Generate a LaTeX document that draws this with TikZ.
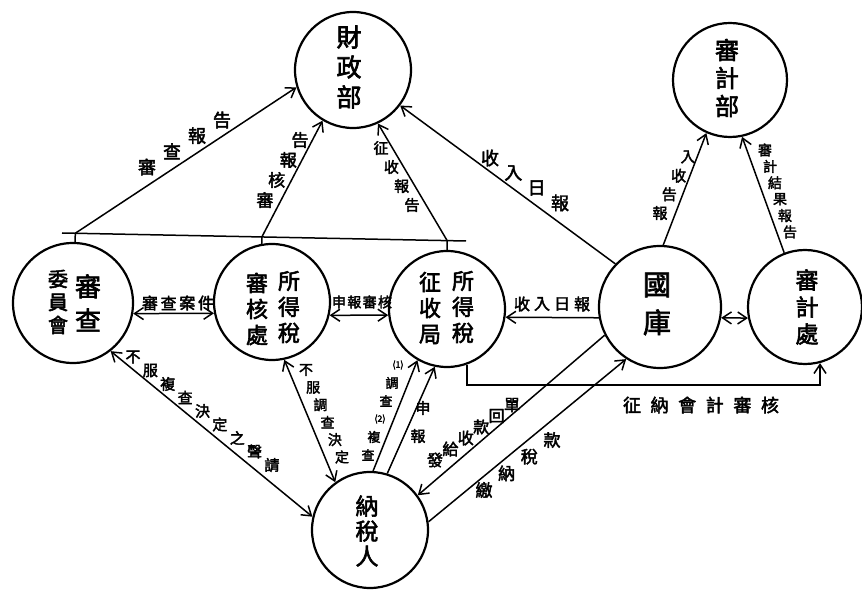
\documentclass[tikz,border=0pt]{standalone}
\usepackage{fontspec}
\newfontfamily\cjk[FakeBold=2.5]{Noto Sans CJK TC}
\usetikzlibrary{arrows.meta,calc}
\tikzset{
  circ/.style={circle,draw,line width=2.2pt,minimum size=#1,inner sep=0pt},
  ln/.style={line width=1.5pt},
  arr/.style={ln,-{Straight Barb[length=9pt,width=12pt]}},
  darr/.style={ln,{Straight Barb[length=9pt,width=12pt]}-{Straight Barb[length=9pt,width=12pt]}},
  ntxt/.style n args={2}{align=center,inner sep=0pt,font=\cjk\fontsize{#1}{#2}\selectfont},
  elab/.style={inner sep=0pt},
}
\newcommand\edgelbl[6]{%
  \foreach \c [count=\i] in {#6}{%
    \node[elab,font=\cjk\fontsize{#2}{#2}\selectfont] (#1-\i) at ($(#3)!{(\i-1)/(#5-1)}!(#4)$) {\c};}}
\begin{document}
\begin{tikzpicture}[x=1pt,y=-1pt]
\useasboundingbox[fill=white] (0,0) rectangle (862,593);
% circles
\node[circ=116pt] (czb) at (353,70) {};
\node[circ=114pt] (sjb) at (730,80) {};
\node[circ=120pt] (scw) at (73,303) {};
\node[circ=116pt] (shc) at (272,302) {};
\node[circ=116pt] (zsj) at (447,309) {};
\node[circ=122pt] (gk) at (660,307) {};
\node[circ=114pt] (sjc) at (805,307) {};
\node[circ=116pt] (nsr) at (370,530) {};
% node texts
\node[ntxt={25}{30}] (t-czb) at (349,67) {財\\政\\部};
\node[ntxt={24}{28}] (t-sjb) at (727,78) {審\\計\\部};
\node[ntxt={26}{34}] (t-scw1) at (88,303) {審\\查};
\node[ntxt={20}{23}] (t-scw2) at (58,302) {委\\員\\會};
\node[ntxt={22}{26}] (t-shc1) at (289,307) {所\\得\\稅};
\node[ntxt={22}{26}] (t-shc2) at (257,309) {審\\核\\處};
\node[ntxt={22}{26}] (t-zsj1) at (463,307) {所\\得\\稅};
\node[ntxt={22}{26}] (t-zsj2) at (430,308) {征\\收\\局};
\node[ntxt={28}{38}] (t-gk) at (657,304) {國\\庫};
\node[ntxt={23}{27}] (t-sjc) at (807,307) {審\\計\\處};
\node[ntxt={23}{25}] (t-nsr) at (367,531) {納\\稅\\人};
% top horizontal line and stubs
\coordinate (hl) at (62,233);
\coordinate (hr) at (466,241);
\coordinate (s1) at ($(hl)!(scw.88)!(hr)$);
\coordinate (s2) at ($(hl)!(shc.100)!(hr)$);
\coordinate (s3) at ($(hl)!(zsj.90)!(hr)$);
\draw[ln] (hl) -- (hr);
\draw[ln] (scw.88) -- (s1);
\draw[ln] (shc.100) -- (s2);
\draw[ln] (zsj.90) -- (s3);
% to 財政部
\draw[arr] (s1) -- (czb.197);
\draw[arr] (s2) -- (czb.239);
\draw[arr] (s3) -- (czb.295);
\draw[arr] (gk.136) -- (czb.323);
% to 審計部
\draw[arr] (gk.87) -- (sjb.246);
\draw[arr] (sjc.111) -- (sjb.282);
% horizontal links
\draw[darr] (scw.350) -- (shc.191);
\draw[darr] (shc.347) -- (zsj.186);
\draw[arr] (gk.190) -- (zsj.352);
\draw[darr] (gk.350) -- (sjc.191);
\coordinate (cnr) at (640,385);
\draw[arr] (zsj.290) |- (cnr) -| (sjc.285);
% taxpayer links
\draw[darr] (scw.308) -- (nsr.167);
\draw[darr] (shc.282) -- (nsr.126);
\draw[arr] (nsr.87) -- (zsj.240);
\draw[arr] (nsr.73) -- (zsj.258);
\draw[arr] (gk.207) -- (nsr.36);
\draw[arr] (nsr.8) -- (gk.237);
% edge labels
\edgelbl{la}{18}{147,167}{222,120}{4}{審,查,報,告}
\edgelbl{lb}{17}{265,200}{300,140}{4}{審,核,報,告}
\edgelbl{lc}{15}{381,148}{412,205}{4}{征,收,報,告}
\edgelbl{ld}{18}{490,158}{560,203}{4}{收,入,日,報}
\edgelbl{le}{15}{660,213}{688,157}{4}{報,告,收,入}
\edgelbl{lf}{14}{765,150}{790,232}{6}{審,計,結,果,報,告}
\edgelbl{lg}{16}{150,303}{206,303}{4}{審,查,案,件}
\edgelbl{lh}{14}{339,302}{385,302}{4}{申,報,審,核}
\edgelbl{li}{16}{522,304}{582,304}{4}{收,入,日,報}
\edgelbl{lj}{18}{632,405}{770,405}{6}{征,納,會,計,審,核}
\edgelbl{lk}{15}{133,357}{272,465}{9}{不,服,複,查,決,定,之,聲,請}
\edgelbl{ll}{14}{306,370}{342,457}{6}{不,服,調,查,決,定}
\edgelbl{lm}{13}{398,365}{368,455}{6}{{\fontsize{9}{9}\selectfont(1)},調,查,{\fontsize{9}{9}\selectfont(2)},複,查}
\edgelbl{ln}{15}{423,408}{418,436}{2}{申,報}
\edgelbl{lo}{16}{435,460}{512,405}{6}{發,給,收,款,回,單}
\edgelbl{lp}{17}{484,490}{552,440}{4}{繳,納,稅,款}
\end{tikzpicture}
\end{document}
